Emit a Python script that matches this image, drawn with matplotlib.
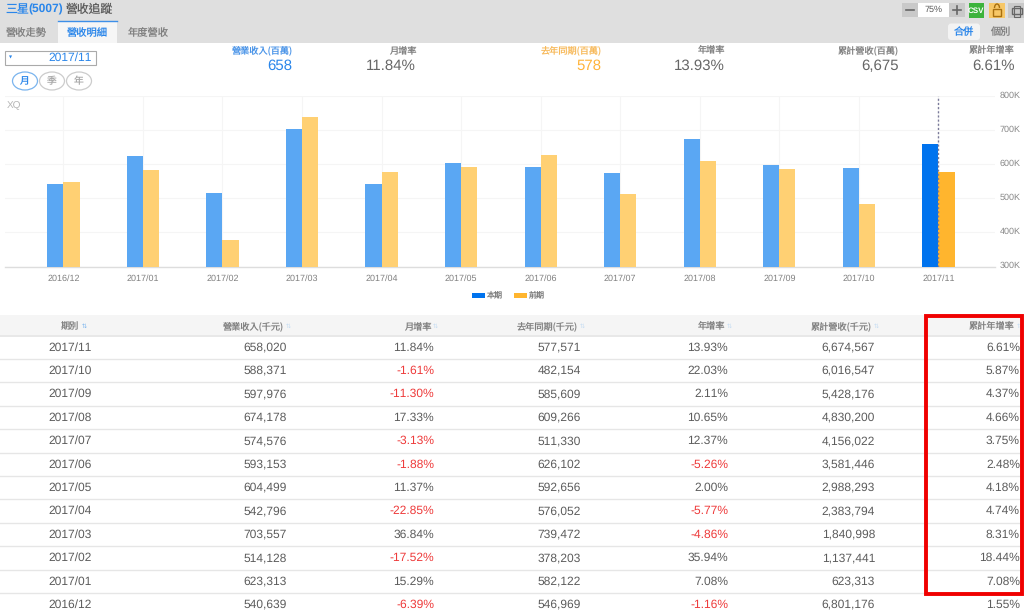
import matplotlib
matplotlib.use('Agg')
import matplotlib.pyplot as plt
from matplotlib.patches import Rectangle, FancyBboxPatch, Ellipse, Arc
from matplotlib.ticker import FuncFormatter
from matplotlib.transforms import ScaledTranslation

plt.rcParams['font.family'] = ['Noto Sans CJK TC', 'DejaVu Sans']
plt.rcParams['text.hinting'] = 'no_hinting'
plt.rcParams['text.hinting_factor'] = 1
LAT = ['Liberation Sans', 'Noto Sans CJK TC']

periods = ['2017/11','2017/10','2017/09','2017/08','2017/07','2017/06','2017/05','2017/04','2017/03','2017/02','2017/01','2016/12']
revenue = [658020,588371,597976,674178,574576,593153,604499,542796,703557,514128,623313,540639]
mom = [11.84,-1.61,-11.30,17.33,-3.13,-1.88,11.37,-22.85,36.84,-17.52,15.29,-6.39]
last_year = [577571,482154,585609,609266,511330,626102,592656,576052,739472,378203,582122,546969]
yoy = [13.93,22.03,2.11,10.65,12.37,-5.26,2.00,-5.77,-4.86,35.94,7.08,-1.16]
cum_rev = [6674567,6016547,5428176,4830200,4156022,3581446,2988293,2383794,1840998,1137441,623313,6801176]
cum_yoy = [6.61,5.87,4.37,4.66,3.75,2.48,4.18,4.74,8.31,18.44,7.08,1.55]
headers = ['期別','營業收入(千元)','月增率','去年同期(千元)','年增率','累計營收(千元)','累計年增率']
summary_labels = ['營業收入(百萬)','月增率','去年同期(百萬)','年增率','累計營收(百萬)','累計年增率']
summary_values = ['658','11.84%','578','13.93%','6,675','6.61%']
y_ticks = [300000,400000,500000,600000,700000,800000]

W, H = 1024, 613
fig = plt.figure(figsize=(W/100, H/100), dpi=100, facecolor='white')
ui = fig.add_axes([0,0,1,1], zorder=0)
ui.set_xlim(0,W); ui.set_ylim(H,0); ui.axis('off')
TXT='#5c5c5c'; GR='#808080'; BLUE='#2a86ea'; OR='#ffb43a'

# top bar
ui.add_patch(Rectangle((0,0),W,42.5,fc='#dfdfdf',ec='none'))
ui.add_patch(Rectangle((58,21),59,22,fc='#f6f6f6',ec='none'))
ui.plot([58,117],[21,21],color='#3d8fe8',lw=1)
ui.text(5,9.5,'三星',color=BLUE,fontsize=8.6,va='center')
ui.text(28,9.5,'(5007)',color=BLUE,fontsize=8.6,va='center',family=LAT,weight='bold')
ui.text(66,9.5,'營收追蹤',color=TXT,fontsize=8.5,va='center')
for x,t,c in [(6,'營收走勢',GR),(67,'營收明細',BLUE),(128,'年度營收',GR)]:
    ui.text(x,33,t,color=c,fontsize=7.4,va='center')
# toolbar
ui.add_patch(Rectangle((902,3),16,14,fc='#c9c9c9',ec='none'))
ui.plot([906,914],[10,10],color='#666666',lw=1.2)
ui.add_patch(Rectangle((918,3),31,14,fc='white',ec='none'))
ui.text(933.5,10,'75%',color=TXT,fontsize=6.8,ha='center',va='center',family=LAT)
ui.add_patch(Rectangle((949,3),16,14,fc='#c9c9c9',ec='none'))
ui.plot([953,961],[10,10],color='#666666',lw=1.2); ui.plot([957,957],[6,14],color='#666666',lw=1.2)
ui.add_patch(Rectangle((968.5,3),15.5,15,fc='#3cb33c',ec='none'))
ui.text(976.2,10.5,'CSV',color='white',fontsize=5.6,ha='center',va='center',family=LAT,weight='bold')
ui.add_patch(Rectangle((989,2.5),16,15,fc='#f7c766',ec='none'))
ui.add_patch(Rectangle((993,9),8,6.5,fc='none',ec='#a87010',lw=1))
ui.add_patch(Arc((997,8),5,8,theta1=180,theta2=360,ec='#a87010',lw=1))
ui.add_patch(Rectangle((1008,3),16,15,fc='#c9c9c9',ec='none'))
ui.add_patch(Rectangle((1011.5,8),10,6,fc='none',ec='#666666',lw=1))
ui.add_patch(Rectangle((1013.5,5.5),6,11,fc='none',ec='#666666',lw=0.8))
ui.add_patch(FancyBboxPatch((948,23.5),32,16.5,boxstyle='round,pad=0,rounding_size=3',fc='#f3f3f3',ec='none'))
ui.text(964,32,'合併',color=BLUE,fontsize=7.3,ha='center',va='center')
ui.text(1000,32,'個別',color=GR,fontsize=7.3,ha='center',va='center')

# date box and period buttons
ui.add_patch(Rectangle((4.7,51),91,14,fc='white',ec='#aaaaaa',lw=0.8))
ui.text(10.5,57.5,'▼',color=BLUE,fontsize=3,ha='center',va='center',family='DejaVu Sans')
ui.text(91.5,58,'2017/11',color=BLUE,fontsize=8.7,ha='right',va='center',family=LAT)
for x,t,c,ec in [(25,'月',BLUE,'#7ab4ee'),(52,'季','#aaaaaa','#cccccc'),(79,'年','#aaaaaa','#cccccc')]:
    ui.add_patch(Ellipse((x,81),25,18,fc='white',ec=ec,lw=0.9))
    ui.text(x,81,t,color=c,fontsize=7,ha='center',va='center')

# summary
sum_right = [293,416,602,725,899,1015]
sum_col = [BLUE,'#666666',OR,'#666666','#666666','#666666']
lab_col = ['#4a94e8',GR,'#f7b95a',GR,GR,GR]
for x,l,v,c,lc in zip(sum_right,summary_labels,summary_values,sum_col,lab_col):
    ui.text(x,50,l,color=lc,fontsize=6.6,ha='right',va='center')
    ui.text(x-0.5,66,v,color=c,fontsize=10.9,ha='right',va='center',family=LAT)
ui.text(7,106,'XQ',color='#b5b5b5',fontsize=7.5,va='center',family=LAT)

# chart
ax = fig.add_axes([5/W, 1-266.5/H, 990/W, 170.5/H], zorder=1)
ax.patch.set_alpha(0)
order = list(range(len(periods)))[::-1]
xs = list(range(len(periods)))
barw = 0.203
for pos,i in zip(xs,order):
    latest = i==0
    ax.bar(pos-barw/2,revenue[i],barw,color='#0073ee' if latest else '#5aa7f3',zorder=3)
    ax.bar(pos+barw/2,last_year[i],barw,color='#ffb52e' if latest else '#ffd073',zorder=3)
ax.set_ylim(300000,800000)
ax.set_xlim(-0.7337,11.711)
ax.set_xticks(xs)
ax.set_xticklabels([periods[i] for i in order],fontsize=6.2,color='#808080',family=LAT)
ax.yaxis.tick_right()
ax.set_yticks(y_ticks)
ax.yaxis.set_major_formatter(FuncFormatter(lambda v,_:f'{int(v/1000)}K'))
ax.tick_params(axis='y',length=0,pad=3.5,labelsize=6.2,labelcolor='#888888')
ax.tick_params(axis='x',length=0,pad=6)
up = ScaledTranslation(0, 1.5/100, fig.dpi_scale_trans)
for t in ax.get_yticklabels():
    t.set_family(LAT)
    t.set_transform(t.get_transform()+up)
ax.grid(True,color='#f5f5f5',lw=0.8,zorder=0)
for s in ['top','left','right']: ax.spines[s].set_visible(False)
ax.spines['bottom'].set_color('#dddddd'); ax.spines['bottom'].set_linewidth(1)
ax.axvline(xs[-1],color='#7a7a9a',lw=1,ls=(0,(1.5,1.5)),zorder=4)

# legend
ui.add_patch(Rectangle((472,292.5),13,5,fc='#0073ee',ec='none'))
ui.text(487,295,'本期',color=GR,fontsize=5.8,va='center')
ui.add_patch(Rectangle((514,292.5),13,5,fc='#ffb52e',ec='none'))
ui.text(529,295,'前期',color=GR,fontsize=5.8,va='center')

# table
ui.add_patch(Rectangle((0,315),W,20,fc='#f5f5f5',ec='none'))
ui.plot([0,W],[335.5,335.5],color='#e4e4e4',lw=1.2)
right = [None,287,434,581,728,875,1020]
head_right = [None,284,431,578,725,872,1014.5]
for j,h in enumerate(headers):
    if j==0:
        ui.text(70,326,h,color=GR,fontsize=6.6,ha='center',va='center')
        ui.text(84,326.5,'⇅',color='#7ab4ee',fontsize=4.5,ha='center',va='center',family='DejaVu Sans')
    else:
        ui.text(head_right[j],326,h,color=GR,fontsize=6.6,ha='right',va='center')
        ui.text(head_right[j]+4.5,326.5,'⇅',color='#c5dcf3',fontsize=4.5,ha='center',va='center',family='DejaVu Sans')
row0, dy = 347.3, 23.4
FS = 8.9
for r,p in enumerate(periods):
    y = row0+r*dy
    ui.plot([0,W],[y+11.7,y+11.7],color='#e6e6e6',lw=1)
    neg = '#ee3a3a'
    ui.text(70,y,p,color=TXT,fontsize=FS,ha='center',va='center',family=LAT)
    ui.text(right[1],y,f'{revenue[r]:,}',color=TXT,fontsize=FS,ha='right',va='center',family=LAT)
    ui.text(right[2],y,f'{mom[r]:.2f}%',color=neg if mom[r]<0 else TXT,fontsize=FS,ha='right',va='center',family=LAT)
    ui.text(right[3],y,f'{last_year[r]:,}',color=TXT,fontsize=FS,ha='right',va='center',family=LAT)
    ui.text(right[4],y,f'{yoy[r]:.2f}%',color=neg if yoy[r]<0 else TXT,fontsize=FS,ha='right',va='center',family=LAT)
    ui.text(right[5],y,f'{cum_rev[r]:,}',color=TXT,fontsize=FS,ha='right',va='center',family=LAT)
    ui.text(right[6],y,f'{cum_yoy[r]:.2f}%',color=TXT,fontsize=FS,ha='right',va='center',family=LAT)
# highlight
ui.add_patch(Rectangle((925.5,316),96,278,fc='none',ec='#f00000',lw=2.8,zorder=5))
fig.savefig('out.png',dpi=100,facecolor='white')
